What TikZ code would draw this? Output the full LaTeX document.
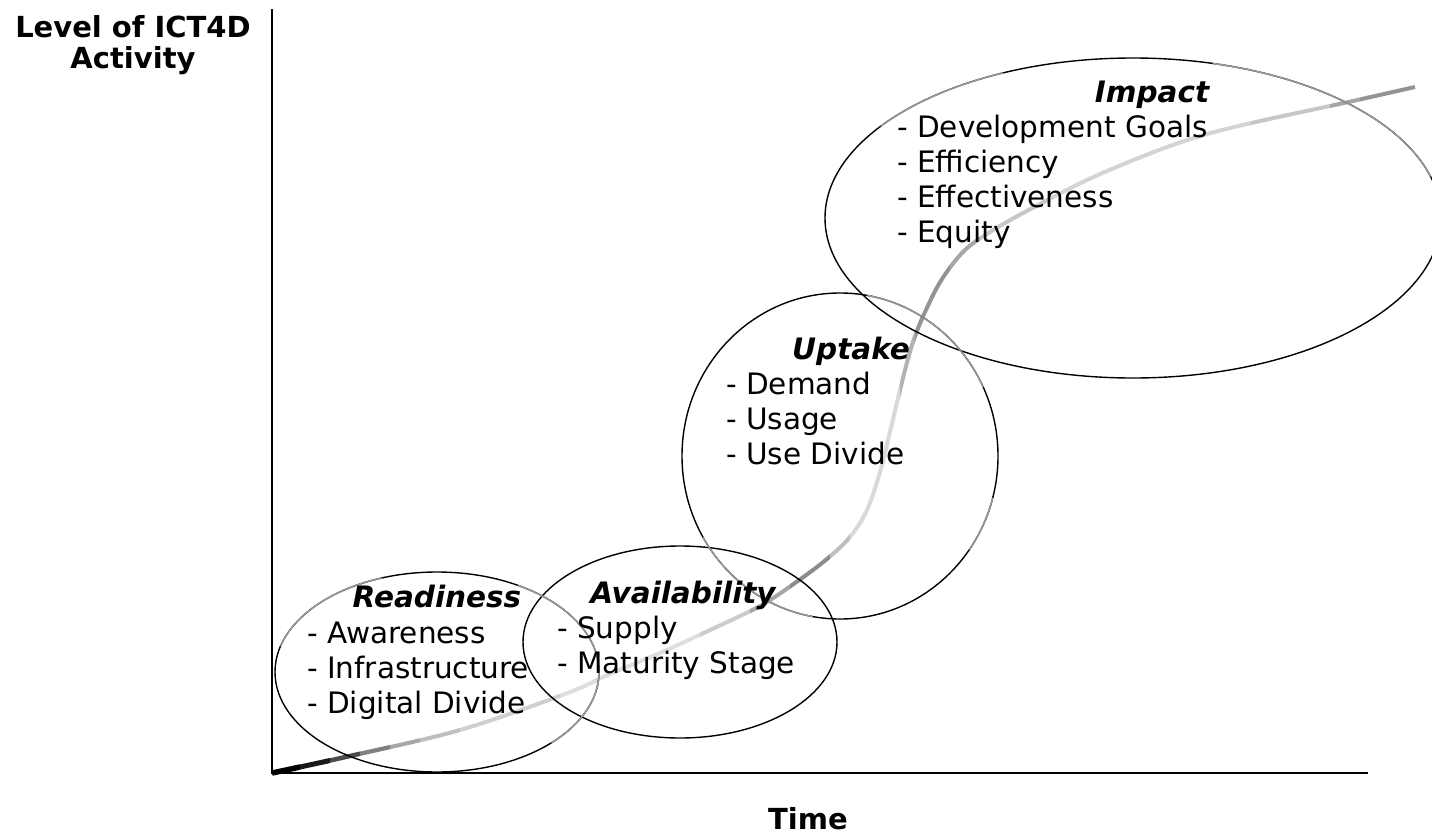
\documentclass[tikz,border=0pt]{standalone}
\usepackage{fontspec}
\setmainfont{DejaVu Sans}
\begin{document}
\begin{tikzpicture}[x=1pt,y=-1pt,
  ell/.style={draw=black, line width=1.4pt},
  ellg/.style={draw=black!40, line width=1.5pt},
  axis/.style={draw=black, line width=2.4pt},
  lbl/.style={inner sep=0pt, anchor=base, font=\fontsize{29}{34}\selectfont\bfseries},
  head/.style={inner sep=0pt, anchor=base, font=\fontsize{29.5}{34}\selectfont\bfseries\itshape},
  item/.style={inner sep=0pt, anchor=base west, font=\fontsize{29.5}{34}\selectfont}]
\useasboundingbox (0,0) rectangle (1432,835);

% axes
\coordinate (top) at (272,9);
\coordinate (orig) at (272,773);
\coordinate (xend) at (1368,773);
\draw[axis] (top) -- (orig) -- (xend);

% S-curve with grey gradient (clipped strips)
\def\scurve{plot[smooth, tension=0.55] coordinates {(272,773) (350,756) (460,730) (565,694) (610,674) (660,653) (710,630) (760,606) (795,583) (827,559) (850,537) (867,510) (880,472) (890,432) (900,390) (912,345) (925,312) (942,279) (965,250) (995,229) (1040,204) (1107,171) (1207,134) (1353,101) (1415,87)}}
\foreach \a/\b/\c/\w in {265/300/100/5.5, 300/330/90/5, 330/360/70/4.5, 360/390/50/4.2, 390/420/35/4, 420/460/25/4, 460/560/19/4, 560/700/13/4, 700/750/20/4, 750/790/35/4, 790/830/45/4, 830/850/25/4, 850/900/15/4, 900/915/30/4, 915/950/42/4, 950/980/35/4, 980/1050/22/4, 1050/1250/17/4, 1250/1330/22/4, 1330/1360/35/4, 1360/1420/42/4}{
  \begin{scope}
    \clip (\a,0) rectangle (\b,835);
    \draw[black!\c, line width=\w pt, line cap=butt] \scurve;
  \end{scope}
}

% ellipses
\coordinate (cR) at (437,672);
\coordinate (cA) at (680,642);
\coordinate (cU) at (840,456);
\coordinate (cI) at (1133,218);
\draw[ell] (cR) ellipse [x radius=162, y radius=100];
\draw[ell] (cA) ellipse [x radius=157, y radius=96];
\draw[ell] (cU) ellipse [x radius=158, y radius=163];
\draw[ell] (cI) ellipse [x radius=308, y radius=160];
% grey parts of the ellipse strokes
\draw[ellg] (cR) ++(195:162 and 100) arc[start angle=195, end angle=250, x radius=162, y radius=100];
\draw[ellg] (cR) ++(300:162 and 100) arc[start angle=300, end angle=405, x radius=162, y radius=100];
\draw[ellg] (cU) ++(280:158 and 163) arc[start angle=280, end angle=335, x radius=158, y radius=163];
\draw[ellg] (cU) ++(100:158 and 163) arc[start angle=100, end angle=150, x radius=158, y radius=163];
\draw[ellg] (cU) ++(15:158 and 163) arc[start angle=15, end angle=35, x radius=158, y radius=163];
\draw[ellg] (cI) ++(215:308 and 160) arc[start angle=215, end angle=245, x radius=308, y radius=160];
\draw[ellg] (cI) ++(285:308 and 160) arc[start angle=285, end angle=345, x radius=308, y radius=160];

% axis labels
\node[lbl] (ylab1) at (133,37) {Level of ICT4D};
\node[lbl] (ylab2) at (133,68) {Activity};
\node[lbl] (xlab) at (808,829) {Time};

% Readiness
\node[head] (rdh) at (437,607) {Readiness};
\node[item] (rd1) at (307,643) {- Awareness};
\node[item] (rd2) at (307,678) {- Infrastructure};
\node[item] (rd3) at (307,713) {- Digital Divide};

% Availability
\node[head] (avh) at (683,603) {Availability};
\node[item] (av1) at (557,638) {- Supply};
\node[item] (av2) at (557,673) {- Maturity Stage};

% Uptake
\node[head] (uph) at (851,359) {Uptake};
\node[item] (up1) at (726,394) {- Demand};
\node[item] (up2) at (726,429) {- Usage};
\node[item] (up3) at (726,464) {- Use Divide};

% Impact
\node[head] (imh) at (1152,102) {Impact};
\node[item] (im1) at (897,137) {- Development Goals};
\node[item] (im2) at (897,172) {- Efficiency};
\node[item] (im3) at (897,207) {- Effectiveness};
\node[item] (im4) at (897,242) {- Equity};
\end{tikzpicture}
\end{document}
